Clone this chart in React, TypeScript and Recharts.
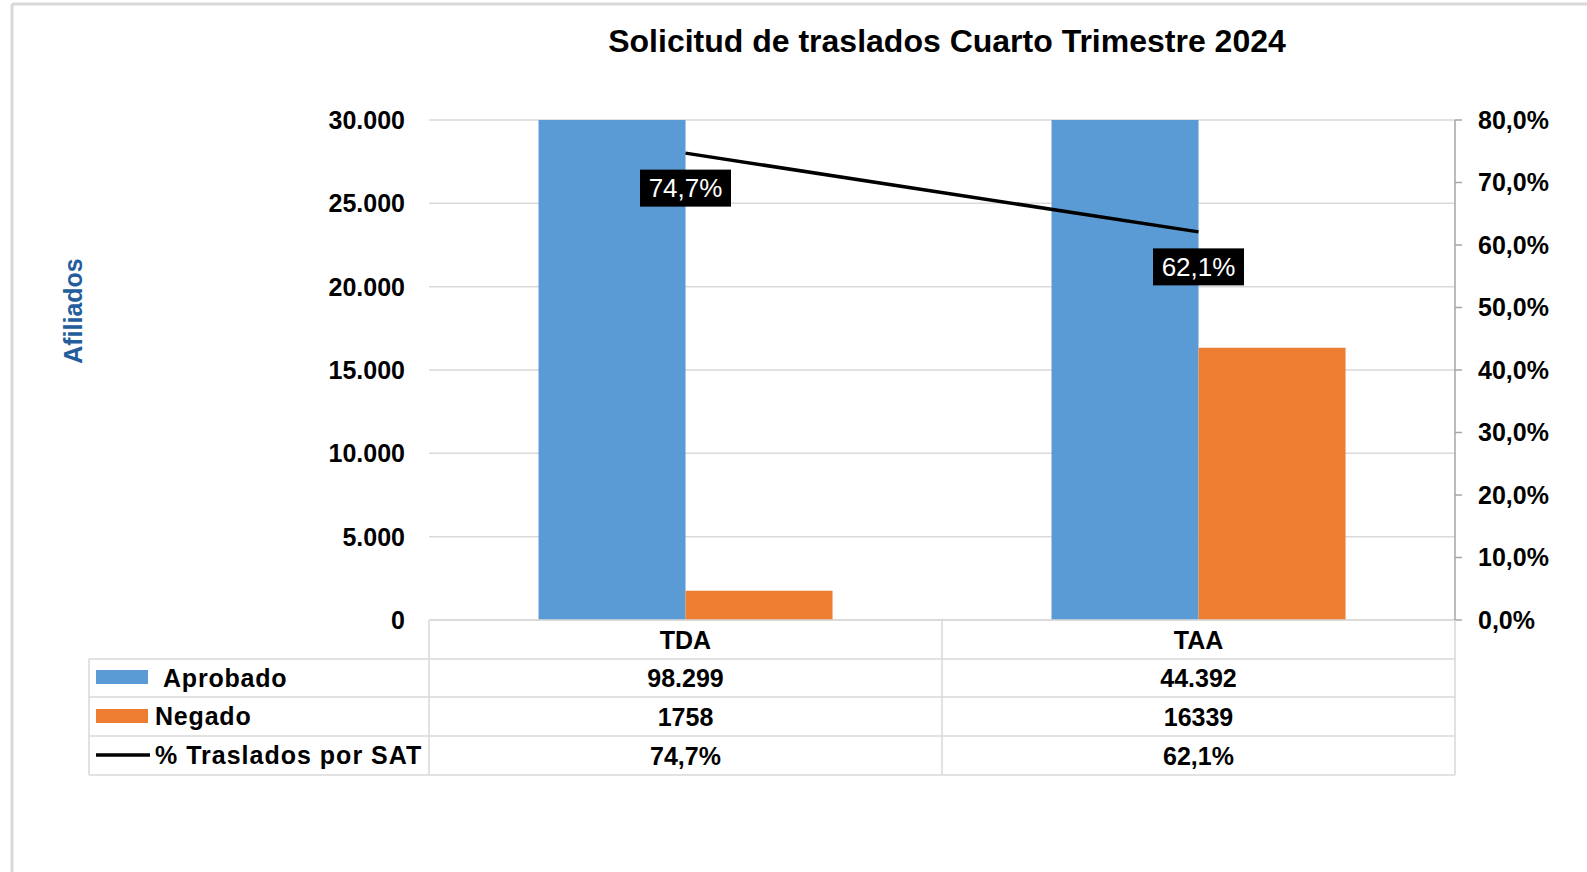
import { ComposedChart, Bar, Line, XAxis, YAxis, CartesianGrid, LabelList } from "recharts";

const categories = ["TDA", "TAA"];
const aprobado = [98299, 44392];
const negado = [1758, 16339];
const pctSat = [0.747, 0.621];
const leftTicks = [0, 5000, 10000, 15000, 20000, 25000, 30000];
const rightTicks = [0, 0.1, 0.2, 0.3, 0.4, 0.5, 0.6, 0.7, 0.8];

const data = categories.map((c, i) => ({
  cat: c,
  aprobado: aprobado[i],
  negado: negado[i],
  pct: pctSat[i],
}));

const FONT = "Arial, 'Liberation Sans', sans-serif";
const BLUE = "#5B9BD5";
const ORANGE = "#ED7D31";
const GRID = "#d9d9d9";

// layout
const W = 1587;
const H = 872;
const PLOT_L = 429;
const PLOT_R = 1455;
const PLOT_T = 120;
const PLOT_B = 620;
const ROWS = [620, 659, 697, 736, 775];
const TABLE_L = 89;

const thousands = (v: number) => v.toString().replace(/\B(?=(\d{3})+(?!\d))/g, ".");
const pctFmt = (v: number) => (v * 100).toFixed(1).replace(".", ",") + "%";

const TableTick = (props: any) => {
  const { x, y, payload } = props;
  const i = payload.index;
  const cells = [categories[i], thousands(aprobado[i]), String(negado[i]), pctFmt(pctSat[i])];
  return (
    <g>
      {cells.map((t, k) => (
        <text
          key={k}
          x={x}
          y={y + (ROWS[k] + ROWS[k + 1]) / 2 - PLOT_B}
          textAnchor="middle"
          dominantBaseline="central"
          fontFamily={FONT}
          fontWeight="bold"
          fontSize={25}
          fill="#000"
        >
          {t}
        </text>
      ))}
    </g>
  );
};

const PctLabel = (props: any) => {
  const { x, y, value } = props;
  const w = 91;
  const h = 37;
  const cy = y + 35;
  return (
    <g>
      <rect x={x - w / 2} y={cy - h / 2} width={w} height={h} fill="#000" />
      <text
        x={x}
        y={cy}
        textAnchor="middle"
        dominantBaseline="central"
        fontFamily={FONT}
        fontSize={26}
        fill="#fff"
      >
        {pctFmt(value)}
      </text>
    </g>
  );
};

export default function App() {
  return (
    <div style={{ position: "absolute", left: 0, top: 0, width: W, height: H, background: "#fff", fontFamily: FONT }}>
      <ComposedChart
        width={W}
        height={H}
        data={data}
        margin={{ top: PLOT_T, right: W - PLOT_R - 100, bottom: H - ROWS[4], left: PLOT_L - 100 }}
        barCategoryGap="21.35%"
        barGap={0}
      >
        <CartesianGrid yAxisId="left" vertical={false} stroke={GRID} strokeWidth={1.5} />
        <XAxis
          dataKey="cat"
          height={ROWS[4] - PLOT_B}
          axisLine={{ stroke: GRID, strokeWidth: 1.5 }}
          tickLine={false}
          tickSize={0}
          tickMargin={0}
          tick={<TableTick />}
          interval={0}
        />
        <YAxis
          yAxisId="left"
          width={100}
          domain={[0, 30000]}
          ticks={leftTicks}
          allowDataOverflow
          axisLine={false}
          tickLine={false}
          tickSize={0}
          tickMargin={24}
          tickFormatter={thousands}
          tick={{ fontFamily: FONT, fontWeight: "bold", fontSize: 25, fill: "#000" }}
        />
        <YAxis
          yAxisId="right"
          orientation="right"
          width={100}
          domain={[0, 0.8]}
          ticks={rightTicks}
          axisLine={{ stroke: "#a6a6a6", strokeWidth: 1.5 }}
          tickLine={{ stroke: "#a6a6a6", strokeWidth: 1.5 }}
          tickSize={7}
          tickMargin={16}
          tickFormatter={pctFmt}
          tick={{ fontFamily: FONT, fontWeight: "bold", fontSize: 25, fill: "#000" }}
        />
        <Bar yAxisId="left" dataKey="aprobado" fill={BLUE} isAnimationActive={false} />
        <Bar yAxisId="left" dataKey="negado" fill={ORANGE} isAnimationActive={false} />
        <Line
          yAxisId="right"
          dataKey="pct"
          stroke="#000"
          strokeWidth={3.5}
          dot={false}
          isAnimationActive={false}
        >
          <LabelList dataKey="pct" content={<PctLabel />} />
        </Line>
      </ComposedChart>

      {/* frame, title, axis title and data table borders / legend column */}
      <svg
        width={W}
        height={H}
        style={{ position: "absolute", left: 0, top: 0, pointerEvents: "none" }}
      >
        <line x1={12} y1={4} x2={W} y2={4} stroke={GRID} strokeWidth={3} />
        <line x1={12} y1={4} x2={12} y2={H} stroke={GRID} strokeWidth={3} />
        <text
          x={947}
          y={41}
          textAnchor="middle"
          dominantBaseline="central"
          fontFamily={FONT}
          fontWeight="bold"
          fontSize={32}
          fill="#000"
        >
          Solicitud de traslados Cuarto Trimestre 2024
        </text>
        <text
          x={73}
          y={311}
          transform="rotate(-90 73 311)"
          textAnchor="middle"
          dominantBaseline="central"
          fontFamily={FONT}
          fontWeight="bold"
          fontSize={25}
          fill="#245D9C"
        >
          Afiliados
        </text>
        {ROWS.slice(1).map((ry) => (
          <line key={ry} x1={TABLE_L} y1={ry} x2={PLOT_R} y2={ry} stroke={GRID} strokeWidth={1.5} />
        ))}
        <line x1={TABLE_L} y1={ROWS[1]} x2={TABLE_L} y2={ROWS[4]} stroke={GRID} strokeWidth={1.5} />
        {[PLOT_L, (PLOT_L + PLOT_R) / 2, PLOT_R].map((vx) => (
          <line key={vx} x1={vx} y1={PLOT_B} x2={vx} y2={ROWS[4]} stroke={GRID} strokeWidth={1.5} />
        ))}
        <rect x={96} y={670} width={52} height={14} fill={BLUE} />
        <text x={163} y={678} dominantBaseline="central" fontFamily={FONT} fontWeight="bold" fontSize={25} letterSpacing={0.8}>
          Aprobado
        </text>
        <rect x={96} y={709} width={52} height={14} fill={ORANGE} />
        <text x={155} y={716} dominantBaseline="central" fontFamily={FONT} fontWeight="bold" fontSize={25} letterSpacing={0.8}>
          Negado
        </text>
        <line x1={96} y1={755} x2={150} y2={755} stroke="#000" strokeWidth={3.5} />
        <text x={155} y={755} dominantBaseline="central" fontFamily={FONT} fontWeight="bold" fontSize={25} letterSpacing={1}>
          % Traslados por SAT
        </text>
      </svg>
    </div>
  );
}
